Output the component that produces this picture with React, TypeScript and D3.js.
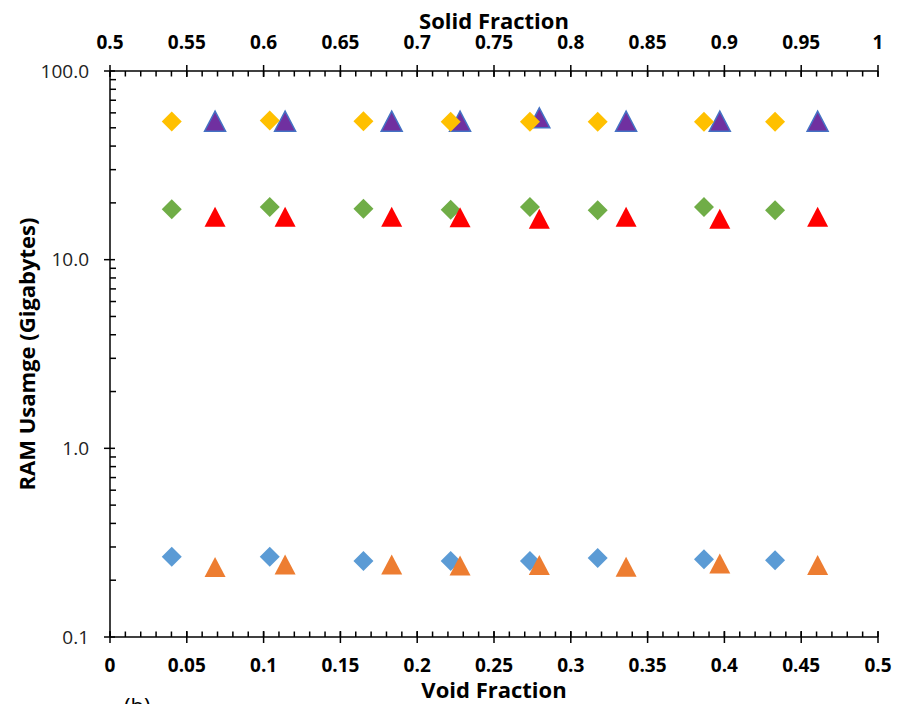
import React from 'react'
import * as d3 from 'd3'

// void fraction positions of the two marker families
const voidDiamond = [0.0402, 0.104, 0.165, 0.2218, 0.2734, 0.3175, 0.3867, 0.433]
const voidTriangle = [0.0684, 0.114, 0.1834, 0.2279, 0.2795, 0.336, 0.397, 0.4607]

// RAM usage (GB)
const blueDiamond = [0.266, 0.266, 0.253, 0.253, 0.253, 0.262, 0.258, 0.255]
const orangeTriangle = [0.235, 0.242, 0.242, 0.239, 0.241, 0.236, 0.245, 0.241]
const greenDiamond = [18.5, 19.0, 18.6, 18.4, 19.0, 18.3, 19.0, 18.3]
const redTriangle = [16.9, 16.9, 16.9, 16.8, 16.5, 16.9, 16.5, 16.9]
const purpleTriangle = [54.2, 54.2, 54.2, 54.2, 56.5, 54.2, 54.2, 54.2]
const yellowDiamond = [54.0, 54.6, 54.2, 53.8, 53.8, 53.8, 53.8, 53.8]

const xTicks = [0, 0.05, 0.1, 0.15, 0.2, 0.25, 0.3, 0.35, 0.4, 0.45, 0.5]
const xTopTicks = [0.5, 0.55, 0.6, 0.65, 0.7, 0.75, 0.8, 0.85, 0.9, 0.95, 1]
const yTicks = [0.1, 1, 10, 100]

const series = [
  { name: 'blue', xs: voidDiamond, ys: blueDiamond, shape: 'diamond', fill: '#5B9BD5', stroke: 'none' },
  { name: 'orange', xs: voidTriangle, ys: orangeTriangle, shape: 'triangle', fill: '#ED7D31', stroke: 'none' },
  { name: 'green', xs: voidDiamond, ys: greenDiamond, shape: 'diamond', fill: '#70AD47', stroke: 'none' },
  { name: 'red', xs: voidTriangle, ys: redTriangle, shape: 'triangle', fill: '#FF0000', stroke: 'none' },
  { name: 'purple', xs: voidTriangle, ys: purpleTriangle, shape: 'triangle', fill: '#7030A0', stroke: '#4472C4' },
  { name: 'yellow', xs: voidDiamond, ys: yellowDiamond, shape: 'diamond', fill: '#FFC000', stroke: 'none' },
]

const W = 897, H = 704
const left = 110, right = 878, top = 71, bottom = 637

const x = d3.scaleLinear().domain([0, 0.5]).range([left, right])
const xTop = d3.scaleLinear().domain([0.5, 1]).range([left, right])
const y = d3.scaleLog().domain([0.1, 100]).range([bottom, top])

const FONT = '"Open Sans", sans-serif'

function marker(shape: string) {
  if (shape === 'diamond') return 'M0,-10L10,0L0,10L-10,0Z'
  return 'M0,-10L10.5,10L-10.5,10Z'
}

export default function App() {
  const minorX = d3.range(0, 0.5001, 0.01)
  const minorY: number[] = []
  ;[0.1, 1, 10].forEach((d) => {
    for (let k = 2; k <= 9; k++) minorY.push(d * k)
  })
  const fmt = (d: number) => String(+d.toFixed(2))

  return (
    <svg width={W} height={H} style={{ display: 'block', position: 'absolute', left: 0, top: 0 }}>
      <rect width={W} height={H} fill="#fff" />

      {/* axes lines */}
      <g stroke="#000" strokeWidth={1.5} fill="none">
        <line x1={left} x2={right} y1={bottom} y2={bottom} />
        <line x1={left} x2={right} y1={top} y2={top} />
        <line x1={left} x2={left} y1={top} y2={bottom} />
        {minorX.map((d, i) => (
          <g key={'mx' + i}>
            <line x1={x(d)} x2={x(d)} y1={bottom} y2={bottom - 5.5} />
            <line x1={x(d)} x2={x(d)} y1={top} y2={top + 5.5} />
          </g>
        ))}
        {xTicks.map((d, i) => (
          <g key={'Mx' + i}>
            <line x1={x(d)} x2={x(d)} y1={bottom - 6} y2={bottom + 6} />
            <line x1={x(d)} x2={x(d)} y1={top - 6} y2={top + 6} />
          </g>
        ))}
        {minorY.map((d, i) => (
          <line key={'my' + i} x1={left} x2={left + 6} y1={y(d)} y2={y(d)} />
        ))}
        {yTicks.map((d, i) => (
          <line key={'My' + i} x1={left - 6} x2={left + 5} y1={y(d)} y2={y(d)} />
        ))}
      </g>

      {/* tick labels */}
      <g fontFamily={FONT} fontWeight="bold" fontSize={19} textAnchor="middle" fill="#000">
        {xTicks.map((d, i) => (
          <text key={'lx' + i} x={x(d)} y={671.5}>{fmt(d)}</text>
        ))}
        {xTopTicks.map((d, i) => (
          <text key={'lt' + i} x={xTop(d)} y={48.5}>{fmt(d)}</text>
        ))}
      </g>
      <g fontFamily={FONT} fontSize={19} textAnchor="end" fill="#222">
        {yTicks.map((d, i) => (
          <text key={'ly' + i} x={89} y={y(d) + 6.5}>{d.toFixed(1)}</text>
        ))}
      </g>

      {/* axis titles */}
      <g fontFamily={FONT} fontWeight="bold" fontSize={22} fill="#000" textAnchor="middle">
        <text x={494} y={28.5}>Solid Fraction</text>
        <text x={494} y={698}>Void Fraction</text>
        <text transform="translate(35,354) rotate(-90)">RAM Usamge (Gigabytes)</text>
      </g>
      <text x={124} y={714} fontFamily={FONT} fontSize={22} fill="#000">(b)</text>

      {/* markers */}
      {series.map((s) => (
        <g key={s.name}>
          {s.xs.map((v, i) => (
            <path
              key={i}
              d={marker(s.shape)}
              transform={`translate(${x(v)},${y(s.ys[i])})`}
              fill={s.fill}
              stroke={s.stroke}
              strokeWidth={s.stroke === 'none' ? 0 : 1.5}
            />
          ))}
        </g>
      ))}
    </svg>
  )
}
